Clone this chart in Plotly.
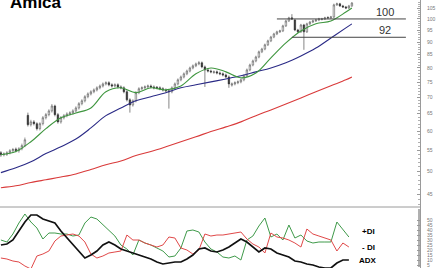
import numpy as np
import plotly.graph_objects as go

# ---------------- data ----------------
bars = list(range(118))

opens = [54.4, 53.9, 54.0, 54.4, 54.9, 55.3, 54.9, 55.4, 56.2, 64.5,
         61.8, 62.6, 62.1, 60.7, 62.1, 63.8, 64.7, 65.8, 67.3, 64.7,
         62.6, 63.8, 64.4, 64.9, 65.2, 65.8, 66.7, 68.0, 68.9, 70.2,
         71.1, 71.8, 72.4, 73.1, 73.7, 74.4, 74.8, 74.1, 73.7, 74.1,
         73.4, 73.1, 71.8, 69.2, 67.6, 68.9, 71.5, 72.8, 73.1, 73.4,
         73.7, 73.4, 73.3, 73.1, 72.8, 72.4, 72.1, 71.8, 73.1, 74.4,
         75.8, 76.8, 77.9, 78.9, 80.0, 80.8, 81.5, 81.9, 80.4, 79.3,
         78.9, 78.4, 78.6, 78.2, 77.9, 77.5, 76.8, 74.0, 74.4, 74.8,
         75.1, 75.8, 77.2, 79.3, 81.1, 82.6, 84.1, 86.1, 87.2, 88.9,
         90.5, 92.1, 93.4, 94.3, 94.7, 96.9, 99.1, 100.5, 99.5, 95.1,
         94.3, 97.3, 94.3, 97.8, 98.6, 99.1, 99.5, 99.8, 100.0, 100.7,
         100.5, 100.9, 106.6, 107.1, 106.1, 105.6, 105.1, 106.1]
highs = [54.8, 54.5, 54.8, 55.3, 55.6, 55.7, 55.8, 56.7, 58.3, 65.3,
         63.2, 63.1, 62.5, 62.5, 64.3, 65.2, 66.3, 67.9, 67.7, 65.2,
         64.3, 64.9, 65.4, 65.7, 66.3, 67.2, 68.5, 69.4, 70.7, 71.6,
         72.3, 72.9, 73.6, 74.2, 74.9, 75.3, 75.3, 74.6, 74.6, 74.6,
         73.9, 73.6, 72.3, 69.7, 69.4, 72.0, 73.3, 73.6, 73.9, 74.2,
         74.2, 73.9, 73.7, 73.6, 73.3, 72.9, 72.6, 73.6, 74.9, 76.3,
         77.3, 78.4, 79.4, 80.5, 81.3, 82.0, 82.6, 82.4, 80.9, 79.8,
         79.4, 79.1, 79.1, 78.7, 78.4, 78.0, 77.3, 74.9, 75.3, 75.6,
         76.3, 77.7, 79.8, 81.6, 83.1, 84.6, 86.6, 87.7, 89.4, 91.0,
         92.6, 93.9, 94.8, 95.2, 97.4, 99.6, 101.0, 102.2, 100.0, 95.6,
         97.8, 97.8, 98.3, 99.1, 99.6, 100.0, 100.5, 100.5, 101.0, 101.2,
         101.4, 107.2, 107.7, 107.6, 106.6, 106.1, 106.6, 108.0]
lows = [53.4, 53.5, 53.6, 54.0, 54.4, 54.5, 54.4, 55.0, 55.8, 61.3,
        61.3, 61.6, 60.2, 60.2, 61.6, 63.3, 64.2, 65.3, 64.2, 62.1,
        62.1, 63.3, 63.9, 64.4, 64.7, 65.3, 66.2, 67.5, 68.4, 69.7,
        70.6, 71.3, 71.9, 72.6, 73.2, 73.9, 73.6, 73.2, 73.2, 72.9,
        72.6, 71.3, 68.7, 65.3, 67.1, 68.4, 71.0, 72.3, 72.6, 72.9,
        72.9, 72.6, 72.6, 72.3, 71.9, 71.6, 66.5, 71.3, 72.6, 73.9,
        75.3, 76.3, 77.4, 78.4, 79.5, 80.3, 81.0, 79.9, 73.4, 78.4,
        78.1, 77.9, 77.7, 77.4, 77.0, 76.3, 73.1, 73.5, 73.9, 74.3,
        74.6, 75.3, 76.7, 78.8, 80.6, 82.1, 83.6, 85.6, 86.7, 88.4,
        90.0, 91.6, 92.9, 93.8, 94.2, 96.4, 98.6, 99.5, 94.6, 93.8,
        93.8, 86.9, 93.8, 97.3, 98.1, 98.6, 99.0, 99.3, 99.5, 100.0,
        100.0, 100.4, 106.1, 105.6, 105.1, 104.6, 104.6, 105.6]
closes = [53.9, 54.1, 54.4, 54.9, 55.2, 54.9, 55.4, 56.2, 57.7, 61.8,
          62.6, 62.1, 60.7, 62.1, 63.8, 64.7, 65.8, 67.3, 64.7, 62.6,
          63.8, 64.4, 64.9, 65.2, 65.8, 66.7, 68.0, 68.9, 70.2, 71.1,
          71.8, 72.4, 73.1, 73.7, 74.4, 74.8, 74.1, 73.7, 74.1, 73.4,
          73.1, 71.8, 69.2, 67.6, 68.9, 71.5, 72.8, 73.1, 73.4, 73.7,
          73.4, 73.1, 73.1, 72.8, 72.4, 72.1, 71.8, 73.1, 74.4, 75.8,
          76.8, 77.9, 78.9, 80.0, 80.8, 81.5, 81.9, 80.4, 79.3, 78.9,
          78.6, 78.6, 78.2, 77.9, 77.5, 76.8, 74.4, 74.4, 74.8, 75.1,
          75.8, 77.2, 79.3, 81.1, 82.6, 84.1, 86.1, 87.2, 88.9, 90.5,
          92.1, 93.4, 94.3, 94.7, 96.9, 99.1, 100.5, 100.0, 95.1, 94.3,
          97.3, 94.3, 97.8, 98.6, 99.1, 99.5, 100.0, 100.0, 100.5, 100.5,
          100.9, 106.6, 107.1, 106.1, 105.6, 105.1, 106.1, 107.5]

ma_idx = [0, 5, 10, 15, 20, 25, 30, 35, 40, 45, 50, 55, 60, 65, 70, 75,
          80, 85, 90, 95, 100, 105, 110, 115, 117]
ma_short = [53.9, 54.7, 57.2, 60.7, 63.8, 65.2, 66.7, 71.8, 73.1, 71.5, 73.1,
            72.4, 73.7, 77.9, 80.0, 78.6, 76.5, 78.2, 83.8, 89.7, 94.7, 97.8,
            99.1, 103.2, 105.1]
ma_mid = [49.7, 50.8, 52.2, 54.2, 55.9, 57.9, 60.9, 64.4, 66.7, 68.9, 70.2,
          71.5, 73.1, 74.1, 75.1, 76.1, 77.2, 78.6, 80.0, 81.9, 84.5, 87.6,
          91.7, 96.0, 97.8]
ma_long = [46.4, 46.8, 47.5, 48.1, 48.7, 49.4, 50.4, 51.5, 52.4, 53.7, 54.7,
           55.9, 57.2, 58.5, 59.9, 61.2, 62.6, 64.4, 66.1, 67.9, 69.8, 71.8,
           73.8, 75.8, 76.8]

levels = [100, 92]
level_start = [92, 97]

dmi_idx = list(range(0, 117, 2))
plus_di = [30, 28, 36, 47, 56, 48, 42, 31, 37, 37, 36, 36, 34, 35, 47, 53, 51,
           45, 39, 34, 25, 21, 15, 30, 27, 25, 22, 19, 13, 14, 22, 39, 40, 38,
           28, 21, 18, 13, 12, 14, 10, 30, 34, 44, 52, 33, 36, 30, 45, 32, 35,
           29, 27, 28, 28, 28, 48, 41, 33]
minus_di = [12, 11, 9, 8, 4, 1, 14, 16, 19, 29, 34, 35, 36, 34, 28, 16, 12,
            14, 17, 18, 19, 35, 30, 30, 27, 25, 23, 25, 33, 32, 22, 20, 16, 20,
            36, 34, 35, 35, 36, 37, 38, 31, 26, 23, 17, 37, 33, 32, 30, 27, 23,
            41, 36, 34, 32, 30, 19, 27, 23]
adx = [25, 26, 30, 39, 48, 55, 55, 51, 49, 47, 39, 32, 26, 19, 12, 15, 19, 25,
       28, 25, 21, 19, 17, 15, 13, 11, 8, 6, 7, 8, 8, 11, 15, 21, 22, 19, 18,
       20, 23, 27, 31, 28, 23, 18, 22, 21, 17, 15, 13, 9, 8, 6, 5, 3, 2, 2, 7,
       10, 10]

price_ticks = [45, 50, 55, 60, 65, 70, 75, 80, 85, 90, 95, 100, 105]
dmi_ticks = [5, 10, 15, 20, 25, 30, 35, 40, 45, 50]

# ---------------- figure ----------------
X_END = 139.7
fig = go.Figure()

fig.add_trace(go.Candlestick(
    x=bars, open=opens, high=highs, low=lows, close=closes,
    xaxis="x", yaxis="y", whiskerwidth=0, hoverinfo="skip",
    increasing=dict(line=dict(color="#555555", width=0.6), fillcolor="white"),
    decreasing=dict(line=dict(color="#333333", width=0.6), fillcolor="#222222"),
))

for vals, col in [(ma_long, "#d93a3a"), (ma_mid, "#2a2a86"), (ma_short, "#3f963f")]:
    fig.add_trace(go.Scatter(x=ma_idx, y=vals, mode="lines", xaxis="x", yaxis="y",
                             line=dict(color=col, width=1.1, shape="spline"),
                             hoverinfo="skip"))

for lvl, st in zip(levels, level_start):
    fig.add_trace(go.Scatter(x=[st, 135], y=[lvl, lvl], mode="lines", xaxis="x", yaxis="y",
                             line=dict(color="#444444", width=1), hoverinfo="skip"))

for vals, col, w in [(plus_di, "#3f9a4a", 1), (minus_di, "#e04848", 1), (adx, "#111111", 1.7)]:
    fig.add_trace(go.Scatter(x=dmi_idx, y=vals, mode="lines", xaxis="x2", yaxis="y2",
                             line=dict(color=col, width=w), hoverinfo="skip"))

split = 61 / 268
axis_common = dict(side="right", showline=True, linecolor="#9a9a9a", linewidth=1,
                   ticks="inside", ticklen=3, tickcolor="#9a9a9a",
                   tickfont=dict(size=5, color="#777777", family="Arial"),
                   showgrid=False, zeroline=False, ticklabelstandoff=5)

fig.update_layout(
    width=439, height=268, margin=dict(l=0, r=19, t=0, b=0),
    paper_bgcolor="white", plot_bgcolor="white", showlegend=False,
    xaxis=dict(domain=[0, 1], range=[-0.3, X_END], visible=False,
               rangeslider=dict(visible=False), anchor="y"),
    xaxis2=dict(domain=[0, 1], range=[-0.3, X_END], visible=False, anchor="y2",
                matches="x"),
    yaxis=dict(domain=[split, 1], type="log", range=[np.log10(42.5), np.log10(109)],
               tickvals=price_ticks, ticktext=[str(t) for t in price_ticks],
               minor=dict(tickvals=list(range(43, 109)), ticklen=2, tickcolor="#b0b0b0",
                          ticks="inside"),
               anchor="x", **axis_common),
    yaxis2=dict(domain=[0, split], range=[2, 63], tickvals=dmi_ticks,
                minor=dict(dtick=1, ticklen=2, tickcolor="#b0b0b0", ticks="inside"),
                anchor="x2", **axis_common),
    shapes=[dict(type="line", xref="paper", yref="paper", x0=0, x1=1, y0=split, y1=split,
                 line=dict(color="#9a9a9a", width=1))],
)

annos = [
    dict(text="<b>Amica</b>", xref="paper", yref="paper", x=8 / 420, y=1,
         xanchor="left", yanchor="top", yshift=9, showarrow=False,
         font=dict(size=17, color="black", family="Arial")),
]
for lvl in levels:
    annos.append(dict(text=str(lvl), xref="paper", yref="y", x=385 / 420, y=np.log10(lvl),
                      xanchor="center", yanchor="bottom", yshift=-1, showarrow=False,
                      font=dict(size=11, color="#333333", family="Arial")))
for txt, yv in [("+DI", 39), ("- DI", 23), ("ADX", 10)]:
    annos.append(dict(text="<b>" + txt + "</b>", xref="x2", yref="y2", x=122.5, y=yv,
                      xanchor="center", yanchor="middle", showarrow=False,
                      font=dict(size=8, color="black", family="Arial")))
fig.update_layout(annotations=annos)

fig.write_html("out.html")
